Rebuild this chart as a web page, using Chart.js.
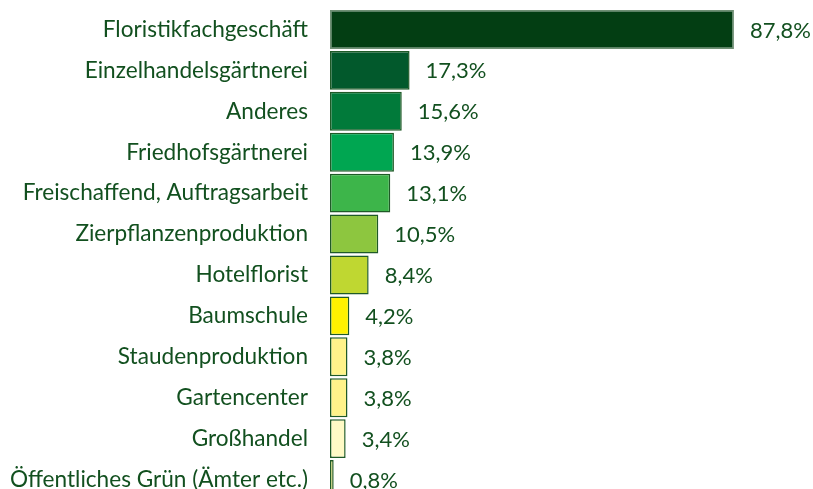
<!DOCTYPE html>
<html>
<head>
<meta charset="utf-8">
<script src="https://cdn.jsdelivr.net/npm/chart.js@4"></script>
<style>
  html, body { margin: 0; padding: 0; background: #fff; overflow: hidden; }
  #wrap { width: 813px; height: 500px; }
</style>
</head>
<body>
<div id="wrap"><canvas id="chart"></canvas></div>
<script>
// Kategorien und Werte (in %)
const kategorien = [
  'Floristikfachgeschäft', 'Einzelhandelsgärtnerei', 'Anderes', 'Friedhofsgärtnerei',
  'Freischaffend, Auftragsarbeit', 'Zierpflanzenproduktion', 'Hotelflorist', 'Baumschule',
  'Staudenproduktion', 'Gartencenter', 'Großhandel', 'Öffentliches Grün (Ämter etc.)'
];
const werte = [87.8, 17.3, 15.6, 13.9, 13.1, 10.5, 8.4, 4.2, 3.8, 3.8, 3.4, 0.8];
const farben = [
  '#033e13', '#02592c', '#017a3a', '#00a651', '#3db54a', '#8dc63f',
  '#bfd731', '#fff200', '#fff38a', '#fff38a', '#fffac6', '#f7ef7a'
];
const randFarben = [
  '#6f8f74', '#1f5a27', '#1f5a27', '#1f5a27', '#1f5a27', '#1f5a27',
  '#1f5a27', '#1f5a27', '#1f5a27', '#1f5a27', '#1f5a27', '#1f5a27'
];

const textFarbe = '#12501f';
const schrift = 'Lato, sans-serif';

// Prozentwerte rechts neben den Balken
const wertLabels = {
  id: 'wertLabels',
  afterDatasetsDraw(chart) {
    const ctx = chart.ctx;
    const meta = chart.getDatasetMeta(0);
    ctx.save();
    ctx.font = '22px ' + schrift;
    ctx.fillStyle = textFarbe;
    ctx.textBaseline = 'middle';
    ctx.textAlign = 'left';
    meta.data.forEach((bar, i) => {
      const txt = werte[i].toFixed(1).replace('.', ',') + '%';
      ctx.fillText(txt, bar.x + 16, bar.y + 1);
    });
    ctx.restore();
  }
};

new Chart(document.getElementById('chart'), {
  type: 'bar',
  data: {
    labels: kategorien,
    datasets: [{
      data: werte,
      backgroundColor: farben,
      borderColor: randFarben,
      borderWidth: 1.5,
      borderSkipped: false,
      barPercentage: 0.95,
      categoryPercentage: 1
    }]
  },
  options: {
    indexAxis: 'y',
    responsive: true,
    maintainAspectRatio: false,
    animation: false,
    layout: { padding: { top: 9, bottom: 0, left: 0, right: 0 } },
    plugins: { legend: { display: false }, tooltip: { enabled: false } },
    scales: {
      x: { display: false, min: 0, max: 105 },
      y: {
        grid: { display: false },
        border: { display: false },
        ticks: { color: textFarbe, font: { size: 22.6, family: schrift }, padding: 14 },
        afterFit(scale) {
          scale.width = 330;
          scale.paddingTop = 0;
          scale.paddingBottom = 0;
        }
      }
    }
  },
  plugins: [wertLabels]
});
</script>
</body>
</html>
